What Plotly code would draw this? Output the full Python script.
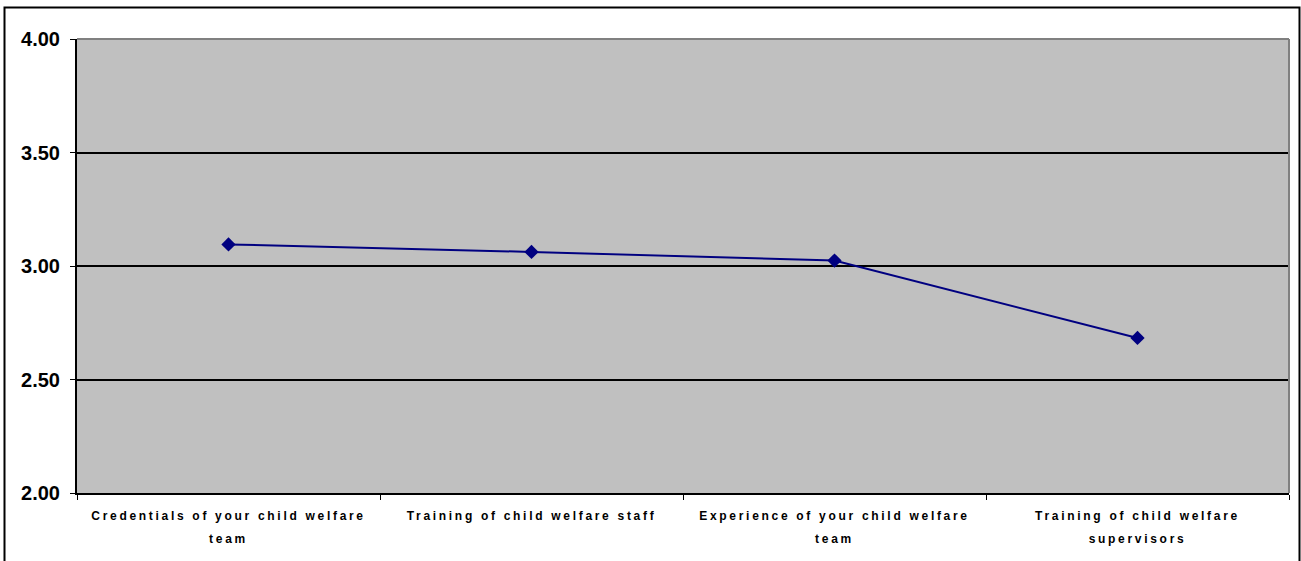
import plotly.graph_objects as go

categories = [
    "Credentials of your child welfare<br>team",
    "Training of child welfare staff",
    "Experience of your child welfare<br>team",
    "Training of child welfare<br>supervisors",
]
values = [3.095, 3.062, 3.024, 2.683]
y_ticks = [2.0, 2.5, 3.0, 3.5, 4.0]
y_tick_labels = ["2.00", "2.50", "3.00", "3.50", "4.00"]

fig = go.Figure()
fig.add_trace(go.Scatter(
    x=categories, y=values, mode="lines+markers",
    line=dict(color="#000080", width=2),
    marker=dict(symbol="diamond", size=11, color="#000080"),
    showlegend=False, cliponaxis=False,
))

fig.update_layout(
    width=1301, height=561,
    margin=dict(l=77, r=12, t=39, b=68),
    paper_bgcolor="white", plot_bgcolor="#C0C0C0",
    font=dict(family="Liberation Sans, Arial, sans-serif", color="black"),
    xaxis=dict(
        type="category", tickson="boundaries", ticks="outside", ticklen=5,
        tickcolor="black", showline=True, linecolor="black", linewidth=2,
        showgrid=False, tickfont=dict(size=12, family="Liberation Sans, Arial", weight="bold"),
        range=[-0.5, 3.5], ticklabelstandoff=11,
    ),
    yaxis=dict(
        range=[2.0, 4.0], tickvals=y_ticks, ticktext=y_tick_labels,
        ticks="outside", ticklen=5, tickcolor="black",
        showline=True, linecolor="black", linewidth=2,
        showgrid=True, gridcolor="black", gridwidth=1.5,
        tickfont=dict(size=20, family="Liberation Sans, Arial", weight="bold"),
        zeroline=False, ticklabelstandoff=6,
    ),
    shapes=[
        dict(type="line", xref="paper", yref="paper", x0=0, x1=1, y0=1, y1=1,
             line=dict(color="#808080", width=2), layer="above"),
        dict(type="line", xref="paper", yref="paper", x0=1, x1=1, y0=0, y1=1,
             line=dict(color="#808080", width=2), layer="above"),
        dict(type="rect", xref="paper", yref="paper",
             x0=(4.5 - 77) / 1212, x1=(1299.5 - 77) / 1212,
             y0=(493 - 570) / 454, y1=(493 - 7.5) / 454,
             line=dict(color="black", width=2), layer="above"),
    ],
)

post = """
document.body.style.margin='0';
document.querySelectorAll('.xtick text').forEach(function(t){
  t.style.letterSpacing='2.7px';
  t.querySelectorAll('tspan.line').forEach(function(s, i){ if (i > 0) s.setAttribute('dy', '1.85em'); });
});
"""
fig.write_html("out.html", post_script=post, config={"displayModeBar": False})
